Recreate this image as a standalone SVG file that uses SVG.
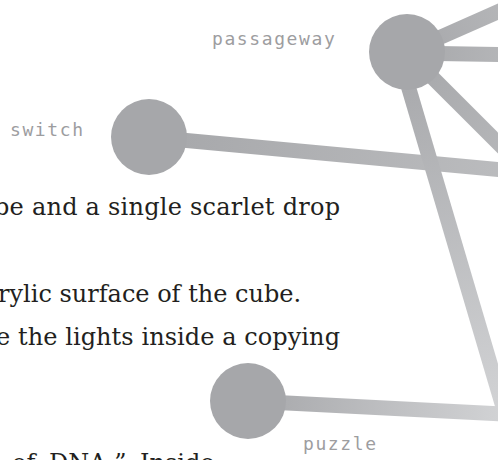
<svg xmlns="http://www.w3.org/2000/svg" width="498" height="460" viewBox="0 0 498 460">
<style>
.page{font-family:"DejaVu Serif","Liberation Serif",serif;font-size:24px;fill:#231f20}
.lbl{font-family:"DejaVu Sans Mono","Liberation Mono",monospace;font-size:18px;letter-spacing:1.6px;fill:#9d9d9f}
.node{fill:#a6a7aa}
.edge{fill:none;stroke-width:15}
</style>
<defs>
<linearGradient id="g1" gradientUnits="userSpaceOnUse" x1="407" y1="52" x2="560" y2="-15"><stop offset="0" stop-color="#a6a7aa"/><stop offset="1" stop-color="#bdbec0"/></linearGradient>
<linearGradient id="g2" gradientUnits="userSpaceOnUse" x1="407" y1="53" x2="560" y2="55"><stop offset="0" stop-color="#a6a7aa"/><stop offset="1" stop-color="#bdbec0"/></linearGradient>
<linearGradient id="g3" gradientUnits="userSpaceOnUse" x1="407" y1="52" x2="560" y2="205"><stop offset="0" stop-color="#a6a7aa"/><stop offset="1" stop-color="#bdbec0"/></linearGradient>
<linearGradient id="g4" gradientUnits="userSpaceOnUse" x1="399" y1="55" x2="505" y2="413"><stop offset="0" stop-color="#a6a7aa"/><stop offset="1" stop-color="#d2d3d5"/></linearGradient>
<linearGradient id="g5" gradientUnits="userSpaceOnUse" x1="149" y1="137" x2="600" y2="179"><stop offset="0" stop-color="#a6a7aa"/><stop offset="1" stop-color="#c0c1c3"/></linearGradient>
<linearGradient id="g6" gradientUnits="userSpaceOnUse" x1="248" y1="401" x2="505" y2="414"><stop offset="0" stop-color="#a6a7aa"/><stop offset="1" stop-color="#d2d3d5"/></linearGradient>
</defs>
<g id="text">
<text class="page" x="-6" y="215" textLength="346" lengthAdjust="spacing">be and a single scarlet drop</text>
<text class="page" x="-2" y="302">rylic surface of the cube.</text>
<text class="page" x="-4" y="345" textLength="344" lengthAdjust="spacing">e the lights inside a copying</text>
<text class="page" x="12" y="471" word-spacing="6">of DNA.” Inside</text>
</g>
<g id="connectors">
<line class="edge" stroke="url(#g1)" x1="407" y1="52" x2="520" y2="2"/>
<line class="edge" stroke="url(#g2)" x1="407" y1="53" x2="520" y2="55"/>
<line class="edge" stroke="url(#g3)" x1="407" y1="52" x2="520" y2="165"/>
<line class="edge" stroke="url(#g5)" x1="149" y1="137" x2="520" y2="171.5"/>
<line class="edge" stroke="url(#g4)" x1="399" y1="55" x2="505" y2="414"/>
<line class="edge" stroke="url(#g6)" x1="248" y1="401" x2="505" y2="414"/>
</g>
<g id="node-passageway">
<circle class="node" cx="407" cy="52" r="38"/>
<text class="lbl" x="212" y="45">passageway</text>
</g>
<g id="node-switch">
<circle class="node" cx="149" cy="137" r="38"/>
<text class="lbl" x="10" y="136">switch</text>
</g>
<g id="node-puzzle">
<circle class="node" cx="248" cy="401" r="38"/>
<text class="lbl" x="303" y="450">puzzle</text>
</g>
</svg>
